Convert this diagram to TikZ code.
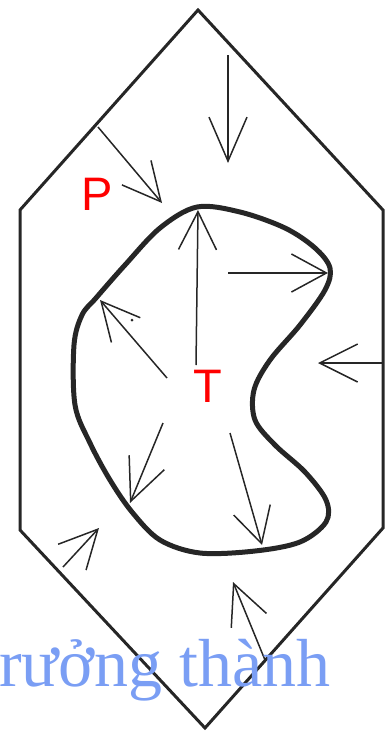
\documentclass[tikz,border=0pt]{standalone}
\usepackage{fontspec}
\setmainfont{Liberation Serif}
\newfontfamily\labelfont{Liberation Sans}
\usepackage{tikz}
\usetikzlibrary{arrows.meta}
\definecolor{capblue}{RGB}{122,158,244}

\begin{document}
\begin{tikzpicture}[
x=1pt, y=-1pt,
frame/.style={draw=black!85, line width=3pt, line join=miter},
blob/.style={draw=black!85, line width=5pt, line join=round},
vec/.style={draw=black!85, line width=1.5pt, -{Straight Barb[length=#1, width=38pt]}},
vec/.default=38pt,
letter/.style={text=red, font=\labelfont\fontsize{47}{47}\selectfont, inner sep=0pt},
caption/.style={text=capblue, font=\fontsize{68}{68}\selectfont, inner sep=0pt, anchor=base west}
]

\useasboundingbox (0,0) rectangle (385,734);

\draw[frame] (198,10) -- (383,210) -- (383,528) -- (205,728) -- (20,530) -- (20,210) -- cycle;

\draw[blob] plot[smooth cycle, tension=0.55] coordinates {
(197,207) (240,212) (285,228) (315,248) (330,268) (325,290) (300,325)
(270,360) (254,390) (255,420) (275,445) (305,472) (326,500) (326,522)
(300,542) (255,551) (200,553) (160,540) (132,512) (110,480) (90,443)
(75,405) (74,345) (82,315) (96,298) (125,265) (160,228)};

\draw[vec=44pt] (228,55) -- (228,163);
\draw[vec] (98,127) -- (162,203);
\draw[vec] (196,365) -- (198,210);
\draw[vec=35pt] (228,273) -- (328,273);
\draw[vec] (167,378) -- (100,300);
\draw[vec] (383,363) -- (318,363);
\draw[vec=42pt] (163,423) -- (130,503);
\draw[vec=35pt] (230,433) -- (262,545);
\draw[vec] (63,567) -- (99,528);
\draw[vec=40pt] (265,660) -- (233,582);

\fill[black!85] (132,320) circle (1.5pt);

\node[letter] (p) at (97,194) {P};
\node[letter] (t) at (208,386) {T};
\node[caption] (title) at (-1,686) {rưởng thành};

\end{tikzpicture}
\end{document}
